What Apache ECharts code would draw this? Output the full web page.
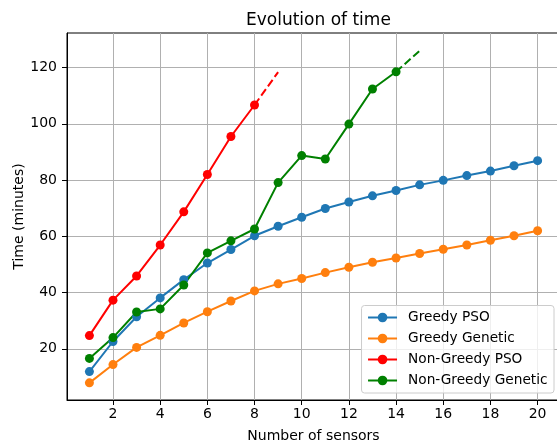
<!DOCTYPE html>
<html>
<head>
<meta charset="utf-8">
<script src="https://cdn.jsdelivr.net/npm/echarts@6/dist/echarts.min.js"></script>
<style>
  html, body { margin: 0; padding: 0; background: #fff; }
  #chart { width: 557px; height: 444px; }
</style>
</head>
<body>
<div id="chart"></div>
<script>
// values
const sensors = [1, 2, 3, 4, 5, 6, 7, 8, 9, 10, 11, 12, 13, 14, 15, 16, 17, 18, 19, 20];
const greedyPso = [11.9, 22.6, 31.4, 38.1, 44.6, 50.5, 55.3, 60.2, 63.6, 66.8, 69.9, 72.2, 74.4, 76.3, 78.3, 79.9, 81.6, 83.2, 85.1, 86.9];
const greedyGenetic = [7.9, 14.4, 20.5, 24.8, 29.2, 33.2, 37.0, 40.6, 43.1, 45.0, 47.1, 49.0, 50.8, 52.3, 53.9, 55.4, 56.9, 58.6, 60.2, 62.0];
const nonGreedyPso = [24.7, 37.3, 45.9, 56.9, 68.7, 82.0, 95.5, 106.7];
const nonGreedyGenetic = [16.6, 24.0, 33.1, 34.2, 42.7, 54.1, 58.4, 62.6, 79.1, 88.7, 87.5, 99.9, 112.4, 118.5];
// dashed continuation (last point -> next sensor count)
const psoDashX = [8, 9];
const psoDashY = [106.7, 118.4];
const geneticDashX = [14, 15];
const geneticDashY = [118.5, 126.0];

const xTicks = [2, 4, 6, 8, 10, 12, 14, 16, 18, 20];
const yTicks = [20, 40, 60, 80, 100, 120];

const font = 'DejaVu Sans';
const pairs = (xs, ys) => ys.map((v, i) => [xs[i], v]);

const lineSeries = (name, color, values) => ({
  name: name,
  type: 'line',
  data: pairs(sensors, values),
  symbol: 'circle',
  symbolSize: 9,
  itemStyle: { color: color },
  lineStyle: { color: color, width: 2 },
  animation: false
});

const dashSeries = (color, xs, ys) => ({
  type: 'line',
  data: pairs(xs, ys),
  showSymbol: false,
  symbol: 'none',
  lineStyle: { color: color, width: 2, type: [8, 3.5] },
  silent: true,
  animation: false
});

const myChart = echarts.init(document.getElementById('chart'), null, { renderer: 'canvas' });

const chartsOption = {
  animation: false,
  textStyle: { fontFamily: font },
  title: {
    text: 'Evolution of time',
    left: 241,
    top: 7,
    textStyle: { fontFamily: font, fontSize: 17, fontWeight: 'normal', color: '#000' }
  },
  grid: {
    left: 67,
    top: 33,
    right: -3,
    bottom: 44,
    outerBoundsMode: 'none',
    containLabel: false,
    show: true,
    borderColor: '#000',
    borderWidth: 1
  },
  legend: {
    orient: 'vertical',
    right: 3,
    bottom: 51,
    padding: [5, 6.5, 5.5, 5.5],
    itemWidth: 29,
    itemHeight: 12,
    itemGap: 7,
    borderColor: '#cccccc',
    borderWidth: 1,
    borderRadius: 3,
    backgroundColor: 'rgba(255,255,255,0.8)',
    textStyle: { fontFamily: font, fontSize: 13.7, color: '#000', padding: [0, 0, 0, 6] },
    data: ['Greedy PSO', 'Greedy Genetic', 'Non-Greedy PSO', 'Non-Greedy Genetic']
  },
  xAxis: {
    type: 'value',
    min: 0.05,
    max: 20.95,
    name: 'Number of sensors',
    nameLocation: 'middle',
    nameGap: 29,
    nameTextStyle: { fontFamily: font, fontSize: 14, color: '#000' },
    axisLine: { show: true, lineStyle: { color: '#000', width: 1 } },
    axisTick: { show: true, inside: false, length: 5, customValues: xTicks, lineStyle: { color: '#000' } },
    axisLabel: { customValues: xTicks, margin: 7, fontFamily: font, fontSize: 14, color: '#000' },
    splitLine: { show: true, lineStyle: { color: '#b0b0b0', width: 1 } }
  },
  yAxis: {
    type: 'value',
    min: 1.8,
    max: 132.3,
    name: 'Time (minutes)',
    nameLocation: 'middle',
    nameGap: 41,
    nameMoveOverlap: false,
    nameTextStyle: { fontFamily: font, fontSize: 14, color: '#000' },
    axisLine: { show: true, lineStyle: { color: '#000', width: 1 } },
    axisTick: { show: true, inside: false, length: 5, customValues: yTicks, lineStyle: { color: '#000' } },
    axisLabel: { customValues: yTicks, margin: 10, fontFamily: font, fontSize: 14, color: '#000' },
    splitLine: { show: true, lineStyle: { color: '#b0b0b0', width: 1 } }
  },
  series: [
    lineSeries('Greedy PSO', '#1f77b4', greedyPso),
    lineSeries('Greedy Genetic', '#ff7f0e', greedyGenetic),
    lineSeries('Non-Greedy PSO', '#ff0000', nonGreedyPso),
    lineSeries('Non-Greedy Genetic', '#008000', nonGreedyGenetic),
    dashSeries('#ff0000', psoDashX, psoDashY),
    dashSeries('#008000', geneticDashX, geneticDashY)
  ]
};

myChart.setOption(chartsOption);
</script>
</body>
</html>
